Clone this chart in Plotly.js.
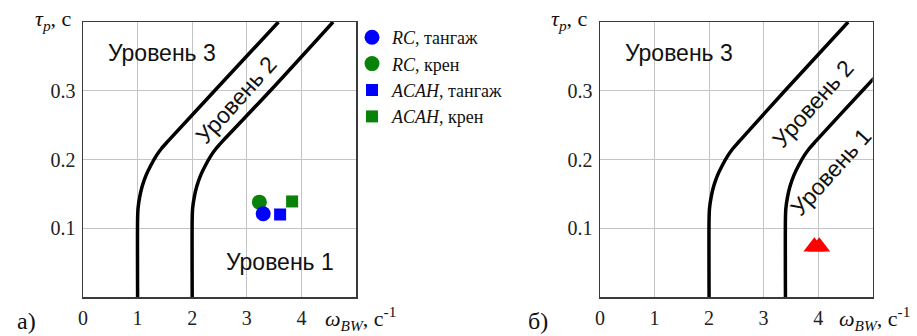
<!DOCTYPE html>
<html>
<head>
<meta charset="utf-8">
<script src="https://cdn.plot.ly/plotly-3.0.1.min.js"></script>
<style>html,body{margin:0;padding:0;background:#fff;}#chart{width:917px;height:336px;}</style>
</head>
<body>
<div id="chart"></div>
<script>
// ---- data ----
const boundaryY = [0, 0.114, 0.129, 0.145, 0.161, 0.177, 0.191, 0.206, 0.216, 0.227, 0.3, 0.4];
const aLevel23X = [1, 1, 1.008, 1.037, 1.084, 1.154, 1.239, 1.347, 1.438, 1.561, 2.41, 3.58];
const aLevel12X = [2, 2, 2.008, 2.037, 2.084, 2.154, 2.239, 2.347, 2.438, 2.561, 3.43, 4.58];
const bLevel23X = [2, 2, 2.008, 2.037, 2.084, 2.154, 2.239, 2.347, 2.438, 2.561, 3.39, 4.55];
const bLevel12X = [3.4, 3.4, 3.408, 3.437, 3.484, 3.554, 3.639, 3.747, 3.838, 3.961, 4.81, 5.98];

const rcPitchX = [3.30], rcPitchY = [0.121];
const rcRollX = [3.23], rcRollY = [0.138];
const acahPitchX = [3.61], acahPitchY = [0.120];
const acahRollX = [3.83], acahRollY = [0.139];
const redX = [3.93, 4.02], redY = [0.073, 0.073];

const xTickVals = [0, 1, 2, 3, 4];
const xTickText = ['0', '1', '2', '3', '4'];
const yTickVals = [0.1, 0.2, 0.3];
const yTickText = ['0.1', '0.2', '0.3'];

const legendNames = ['<i>RC</i>, тангаж', '<i>RC</i>, крен', '<i>ACAH</i>, тангаж', '<i>ACAH</i>, крен'];
const levelLabels = ['Уровень 1', 'Уровень 2', 'Уровень 3'];

// ---- styling ----
const SERIF = 'Liberation Serif, Times New Roman, serif';
const SANS = 'Liberation Sans, Arial, sans-serif';
const W = 917, H = 336;
const px = v => v / W, py = v => 1 - v / H;

const curve = (x, xa, ya) => ({x: x, y: boundaryY, xaxis: xa, yaxis: ya, mode: 'lines',
  line: {color: '#000', width: 3.5, shape: 'spline', smoothing: 0.8}, showlegend: false, hoverinfo: 'skip'});

const traces = [
  curve(aLevel23X, 'x', 'y'),
  curve(aLevel12X, 'x', 'y'),
  curve(bLevel23X, 'x2', 'y2'),
  curve(bLevel12X, 'x2', 'y2'),
  {x: rcRollX, y: rcRollY, mode: 'markers', name: legendNames[1], legendrank: 2,
   marker: {symbol: 'circle', size: 15, color: '#098209'}},
  {x: rcPitchX, y: rcPitchY, mode: 'markers', name: legendNames[0], legendrank: 1,
   marker: {symbol: 'circle', size: 15, color: '#0000ff'}},
  {x: acahPitchX, y: acahPitchY, mode: 'markers', name: legendNames[2], legendrank: 3,
   marker: {symbol: 'square', size: 12, color: '#0000ff'}},
  {x: acahRollX, y: acahRollY, mode: 'markers', name: legendNames[3], legendrank: 4,
   marker: {symbol: 'square', size: 12, color: '#098209'}},
  {x: redX, y: redY, xaxis: 'x2', yaxis: 'y2', mode: 'markers', showlegend: false,
   marker: {symbol: 'triangle-up', size: 19, color: '#ff0000'}}
];

const xAxisBase = {range: [0, 5], tickvals: xTickVals, ticktext: xTickText, showgrid: true,
  gridcolor: '#c4c4c4', gridwidth: 1, zeroline: false, showline: true, mirror: true,
  linecolor: '#3a3a3a', linewidth: 1.5, ticks: '', ticklabelstandoff: 2,
  tickfont: {family: SERIF, size: 20, color: '#222'}, fixedrange: true};
const yAxisBase = {range: [0, 0.4], tickvals: yTickVals, ticktext: yTickText, showgrid: true,
  gridcolor: '#c4c4c4', gridwidth: 1, zeroline: false, showline: true, mirror: true,
  linecolor: '#3a3a3a', linewidth: 1.5, ticks: '', ticklabelstandoff: 2,
  tickfont: {family: SERIF, size: 20, color: '#222'}, fixedrange: true};

const yDom = [py(297), py(22)];
const lvl = (text, x, y, xr, yr, ang) => ({text: text, x: x, y: y, xref: xr, yref: yr,
  showarrow: false, textangle: ang, font: {family: SANS, size: 23, color: '#111'},
  xanchor: 'center', yanchor: 'middle'});
const paperText = (text, x, y, xanchor, size) => ({text: text, x: px(x), y: py(y), xref: 'paper', yref: 'paper',
  showarrow: false, xanchor: xanchor, yanchor: 'middle', font: {family: SERIF, size: size, color: '#111'}});

const yTitle = '<i>τ<sub>p</sub></i>, с';
const xTitle = '<i>ω<sub>BW</sub></i>, с<sup>-1</sup>';

const layout = {
  width: W, height: H, margin: {l: 0, r: 0, t: 0, b: 0},
  paper_bgcolor: '#fff', plot_bgcolor: '#fff',
  xaxis: Object.assign({}, xAxisBase, {domain: [px(83), px(356)], anchor: 'y'}),
  yaxis: Object.assign({}, yAxisBase, {domain: yDom, anchor: 'x'}),
  xaxis2: Object.assign({}, xAxisBase, {domain: [px(600), px(872.7)], anchor: 'y2'}),
  yaxis2: Object.assign({}, yAxisBase, {domain: yDom, anchor: 'x2'}),
  showlegend: true,
  legend: {x: px(352), y: py(19), xanchor: 'left', yanchor: 'top', bgcolor: 'rgba(0,0,0,0)',
    font: {family: SERIF, size: 18, color: '#111'}, itemsizing: 'trace', tracegroupgap: 0},
  annotations: [
    lvl(levelLabels[2], 1.45, 0.355, 'x', 'y', 0),
    lvl(levelLabels[1], 2.80, 0.287, 'x', 'y', -48),
    lvl(levelLabels[0], 3.60, 0.051, 'x', 'y', 0),
    lvl(levelLabels[2], 1.45, 0.355, 'x2', 'y2', 0),
    lvl(levelLabels[1], 3.90, 0.281, 'x2', 'y2', -48),
    lvl(levelLabels[0], 4.23, 0.182, 'x2', 'y2', -48),
    paperText(yTitle, 74, 20, 'right', 22),
    paperText(yTitle, 590, 20, 'right', 22),
    paperText(xTitle, 323, 318, 'left', 22),
    paperText(xTitle, 837, 318, 'left', 22),
    paperText('а)', 26, 321, 'center', 24),
    paperText('б)', 538, 321, 'center', 24)
  ]
};

Plotly.newPlot('chart', traces, layout, {displayModeBar: false, staticPlot: true});
</script>
</body>
</html>
